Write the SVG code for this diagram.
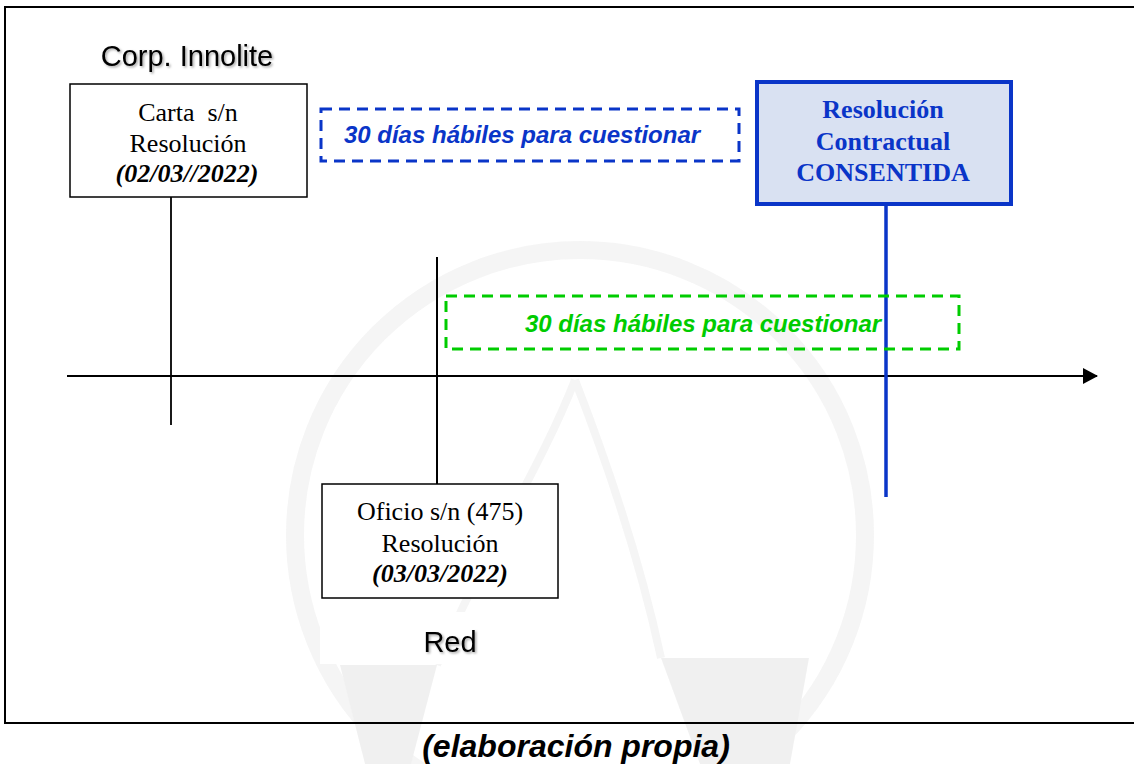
<svg xmlns="http://www.w3.org/2000/svg" width="1134" height="764" viewBox="0 0 1134 764">
<defs>
<style>
.box{fill:#fff;stroke:#000;stroke-width:1.5}
.tm{font-family:"Liberation Serif",serif;font-size:26px;fill:#000;text-anchor:middle}
.bi{font-weight:bold;font-style:italic}
.bl{font-family:"Liberation Serif",serif;font-size:26px;font-weight:bold;fill:#0a35c8;text-anchor:middle}
.dash{font-family:"Liberation Sans",Arial,sans-serif;font-size:24px;font-weight:bold;font-style:italic;text-anchor:middle}
.sans{font-family:"Liberation Sans",Arial,sans-serif;font-size:29px;fill:#000;text-anchor:middle}
.wm{fill:#ebebeb}
</style>
<filter id="sh" x="-10%" y="-30%" width="120%" height="160%">
<feDropShadow dx="1.5" dy="1.5" stdDeviation="1" flood-color="#000" flood-opacity="0.35"/>
</filter>
<marker id="arr" markerWidth="15" markerHeight="16" refX="14" refY="8" orient="auto" markerUnits="userSpaceOnUse">
<path d="M0,0 L15,8 L0,16 Z" fill="#000"/>
</marker>
</defs>
<rect width="1134" height="764" fill="#fff"/>
<g id="watermark" opacity="0.7">
<circle cx="580" cy="535" r="285" fill="none" stroke="#f1f1f1" stroke-width="18"/>
<path d="M575,380 C540,470 480,560 437,665 M575,380 C610,470 640,560 661,658" fill="none" stroke="#f1f1f1" stroke-width="8"/>
<path class="wm" d="M340,665 L437,665 L411,764 L365,764 Z"/>
<path class="wm" d="M661,658 L809,658 L790,764 L700,764 Z"/>
</g>
<rect id="frame" x="5" y="7" width="1140" height="716" fill="none" stroke="#000" stroke-width="2"/>
<g id="connectors" fill="none">
<line x1="67" y1="376" x2="1097" y2="376" stroke="#000" stroke-width="2" marker-end="url(#arr)"/>
<line x1="171" y1="197" x2="171" y2="425" stroke="#000" stroke-width="1.8"/>
<line x1="437" y1="257" x2="437" y2="484" stroke="#000" stroke-width="2"/>
<line x1="886" y1="205" x2="886" y2="497" stroke="#0a35c8" stroke-width="3.5"/>
</g>
<text id="corp" x="187" y="66" class="sans" filter="url(#sh)">Corp. Innolite</text>
<g id="carta">
<rect class="box" x="70" y="84" width="237" height="113"/>
<text class="tm" x="188" y="121" xml:space="preserve">Carta  s/n</text>
<text class="tm" x="188" y="152">Resolución</text>
<text class="tm bi" x="187" y="182">(02/03//2022)</text>
</g>
<g id="plazo-azul">
<rect x="321" y="109" width="418" height="52" fill="none" stroke="#0a35c8" stroke-width="3" stroke-dasharray="11,7"/>
<text class="dash" x="522" y="143" fill="#0a35c8">30 días hábiles para cuestionar</text>
</g>
<g id="consentida">
<rect x="757" y="82" width="254" height="122" fill="#d9e1f2" stroke="#0a35c8" stroke-width="4"/>
<text class="bl" x="883" y="118">Resolución</text>
<text class="bl" x="883" y="150">Contractual</text>
<text class="bl" x="883" y="181">CONSENTIDA</text>
</g>
<g id="plazo-verde">
<rect x="446" y="296" width="513" height="53" fill="none" stroke="#00cc00" stroke-width="3" stroke-dasharray="11,7"/>
<text class="dash" x="703" y="332" fill="#00cc00">30 días hábiles para cuestionar</text>
</g>
<g id="oficio">
<rect class="box" x="322" y="484" width="236" height="114"/>
<text class="tm" x="440" y="520">Oficio s/n (475)</text>
<text class="tm" x="440" y="552">Resolución</text>
<text class="tm bi" x="440" y="582">(03/03/2022)</text>
</g>
<g id="red">
<rect x="320" y="612" width="251" height="52" fill="#fff"/>
<text class="sans" x="450" y="652" filter="url(#sh)">Red</text>
</g>
<text id="caption" x="576" y="757" font-family="'Liberation Sans',Arial,sans-serif" font-size="32" font-weight="bold" font-style="italic" text-anchor="middle" fill="#000">(elaboración propia)</text>
</svg>
